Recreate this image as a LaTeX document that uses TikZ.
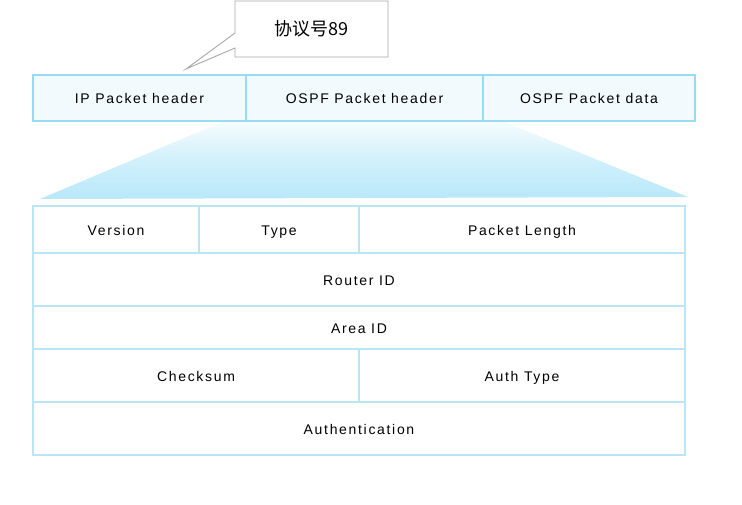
\documentclass[tikz,border=0pt]{standalone}
\usepackage{fontspec}
\setmainfont{Liberation Sans}[LetterSpace=12]
\newfontfamily\cjk{Noto Sans CJK SC}
\usetikzlibrary{positioning}
\definecolor{topfill}{HTML}{F2FAFE}
\definecolor{topborder}{HTML}{98DCF3}
\definecolor{tabborder}{HTML}{B9E5F5}
\definecolor{callborder}{HTML}{A8A8A8}
\definecolor{shadetop}{HTML}{F6FCFE}
\definecolor{shadebot}{HTML}{B8E8F9}
\begin{document}
\begin{tikzpicture}[x=1pt,y=-1pt,
  cellbase/.style={line width=1.6pt,inner sep=0pt,outer sep=0pt,anchor=north west,text height=12pt,text depth=1pt,font=\fontsize{14}{16}\selectfont},
  topcell/.style={cellbase,draw=topborder,fill=topfill},
  tabcell/.style={cellbase,draw=tabborder,fill=white},
  callout/.style={draw=callborder,fill=white,line width=0.9pt}]
\useasboundingbox (0,0) rectangle (742,504);
% callout
\draw[callout] (235,1) -- (388,1) -- (388,57) -- (235,57) -- (235,48) -- (186,69) -- (235,33) -- cycle;
\node[font=\cjk\fontsize{18}{20}\selectfont] (proto) at (311,29) {协议号89};
% top row
\node[topcell,minimum width=213pt,minimum height=46pt] (iph) at (33,75) {IP Packet header};
\node[topcell,minimum width=237pt,minimum height=46pt] (ospfh) at (246,75) {OSPF Packet header};
\node[topcell,minimum width=212pt,minimum height=46pt] (ospfd) at (483,75) {OSPF Packet data};
% trapezoid
\shade[top color=shadetop,bottom color=shadebot,middle color=shadebot!60!shadetop] (222,122) -- (505,122) -- (688,197) -- (40,199) -- cycle;
% bottom table
\node[tabcell,minimum width=166pt,minimum height=47pt] (ver) at (33,206) {Version};
\node[tabcell,minimum width=160pt,minimum height=47pt] (type) at (199,206) {Type};
\node[tabcell,minimum width=326pt,minimum height=47pt] (plen) at (359,206) {Packet Length};
\node[tabcell,minimum width=652pt,minimum height=53pt] (rid) at (33,253) {Router ID};
\node[tabcell,minimum width=652pt,minimum height=43pt] (aid) at (33,306) {Area ID};
\node[tabcell,minimum width=326pt,minimum height=53pt] (cks) at (33,349) {Checksum};
\node[tabcell,minimum width=326pt,minimum height=53pt] (atype) at (359,349) {Auth Type};
\node[tabcell,minimum width=652pt,minimum height=53pt] (auth) at (33,402) {Authentication};
\end{tikzpicture}
\end{document}
